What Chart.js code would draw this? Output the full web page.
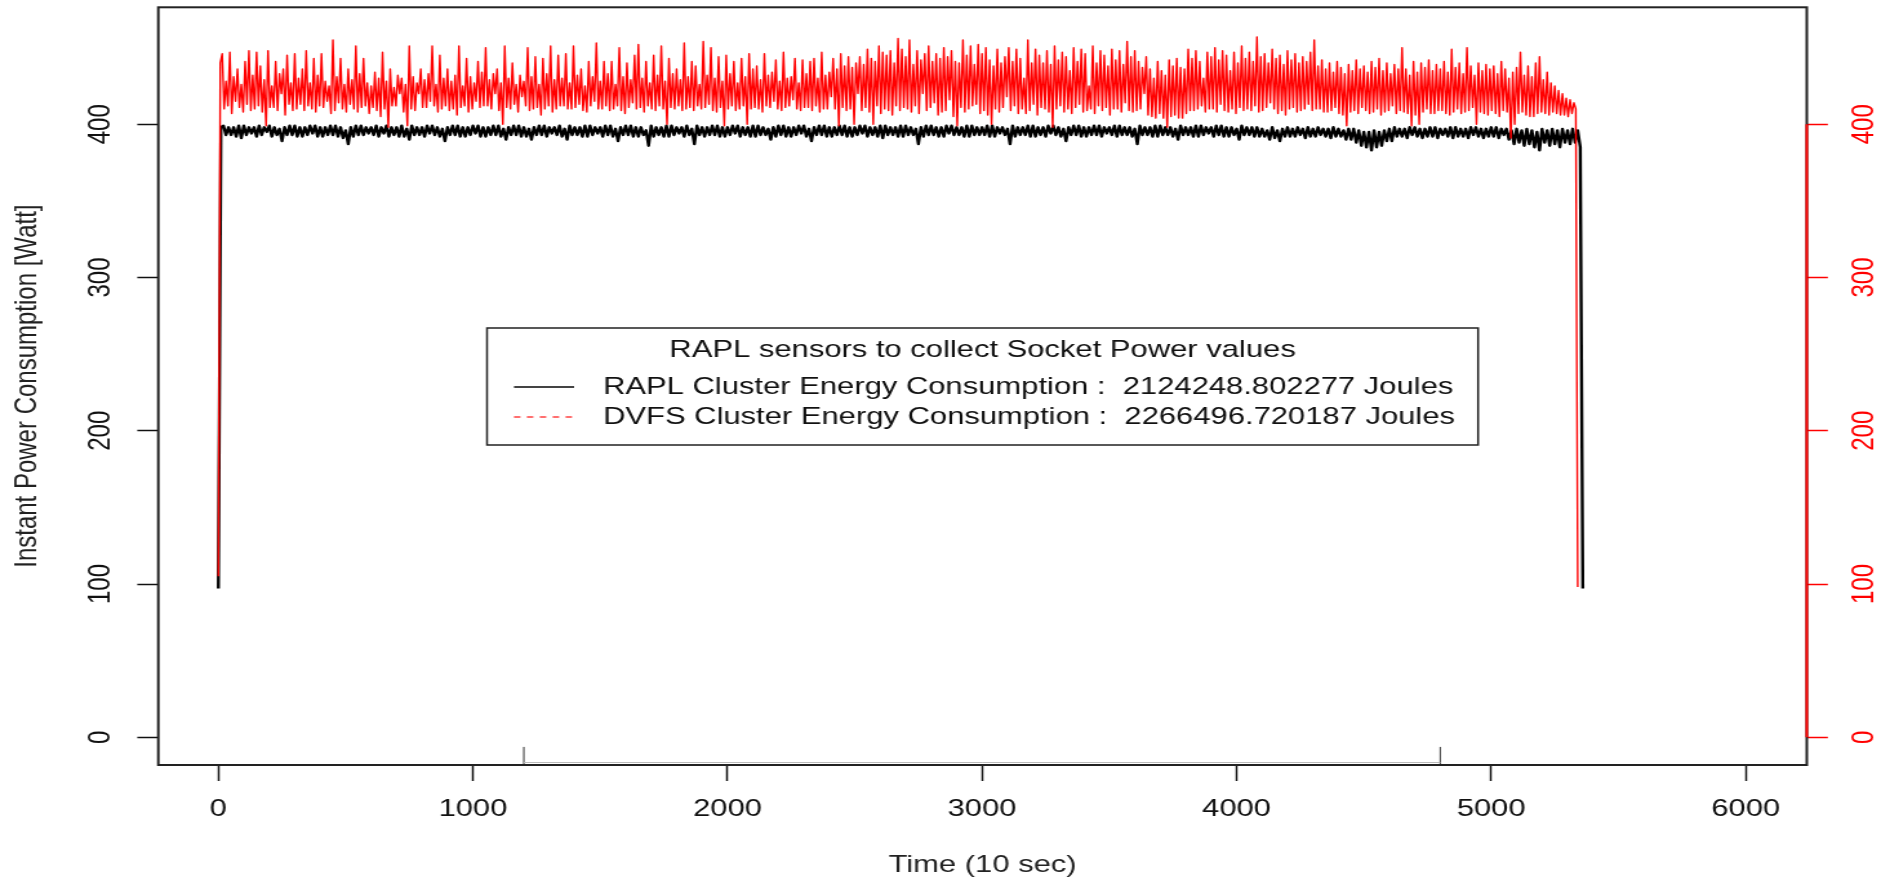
<!DOCTYPE html>
<html>
<head>
<meta charset="utf-8">
<title>RAPL vs DVFS cluster power</title>
<script src="https://cdn.jsdelivr.net/npm/chart.js@4.4.1/dist/chart.umd.min.js"></script>
<style>
    html, body {
        margin: 0;
        padding: 0;
        background: #ffffff;
        overflow: hidden;
    }

    /* the original figure is stretched sideways, so the page is too */
    #plotWrap {
        position: absolute;
        left: 0;
        top: 0;
        width: 1458px;
        height: 882px;
        transform: scaleX(1.2901);
        transform-origin: 0 0;
    }
</style>
</head>
<body>

<div id="plotWrap">
    <canvas id="powerChart"></canvas>
</div>

<script>

// ==========================
// DATA
// ==========================

const timeTicks = [0, 1000, 2000, 3000, 4000, 5000, 6000];

const wattTicks = [0, 100, 200, 300, 400];

const seriesLabels = [
    "RAPL Cluster Energy Consumption :  2124248.802277 Joules",
    "DVFS Cluster Energy Consumption :  2266496.720187 Joules"
];

const legendTitle = "RAPL sensors to collect Socket Power values";

// sampling interval (time units) of each series below
const raplStep = 10;
const dvfsStep = 7.5;

// RAPL (black), one value every 10 time units
const raplWatts = [
    97, 398, 399, 393, 398, 393, 398, 392, 399, 391, 399, 393, 398, 394, 398, 392, 399, 393, 398, 395,
    399, 392, 398, 393, 397, 389, 398, 393, 399, 393, 399, 392, 398, 392, 398, 393, 399, 394, 399, 392,
    398, 392, 398, 393, 399, 393, 399, 392, 398, 391, 396, 387, 398, 392, 399, 393, 399, 393, 398, 394,
    398, 393, 399, 392, 398, 394, 399, 392, 398, 393, 398, 392, 399, 392, 397, 390, 399, 393, 398, 393,
    398, 392, 399, 394, 399, 393, 398, 392, 397, 389, 398, 393, 399, 393, 399, 392, 398, 392, 398, 393,
    399, 394, 399, 392, 398, 392, 398, 393, 399, 393, 399, 392, 397, 390, 398, 393, 399, 393, 399, 392,
    398, 392, 397, 390, 398, 393, 399, 393, 399, 392, 398, 394, 398, 393, 399, 392, 397, 390, 399, 393,
    398, 393, 398, 392, 399, 392, 399, 393, 398, 394, 398, 392, 399, 393, 399, 392, 397, 389, 398, 393,
    399, 393, 399, 392, 398, 392, 398, 393, 396, 386, 399, 392, 398, 393, 398, 392, 399, 392, 399, 393,
    398, 394, 398, 392, 399, 393, 397, 387, 399, 393, 398, 392, 398, 393, 399, 393, 399, 392, 398, 392,
    398, 393, 399, 394, 399, 392, 398, 393, 398, 392, 399, 392, 399, 393, 398, 393, 397, 390, 398, 392,
    399, 393, 399, 392, 398, 392, 398, 393, 399, 394, 399, 392, 397, 389, 398, 393, 399, 393, 399, 392,
    398, 392, 398, 393, 399, 393, 399, 392, 398, 392, 398, 393, 399, 394, 399, 392, 398, 393, 398, 392,
    399, 391, 399, 393, 398, 393, 398, 392, 399, 392, 399, 393, 398, 393, 397, 387, 398, 392, 399, 393,
    399, 393, 398, 392, 398, 392, 399, 394, 399, 393, 398, 393, 398, 392, 399, 392, 399, 393, 398, 393,
    398, 393, 399, 392, 399, 392, 398, 394, 398, 393, 397, 387, 399, 392, 398, 393, 398, 393, 399, 392,
    399, 392, 398, 393, 398, 392, 399, 394, 399, 393, 398, 392, 397, 389, 398, 393, 399, 393, 399, 392,
    398, 392, 398, 393, 399, 393, 399, 392, 398, 394, 398, 393, 399, 392, 399, 393, 398, 393, 398, 392,
    397, 387, 399, 393, 398, 393, 398, 392, 399, 392, 399, 393, 398, 393, 398, 392, 397, 390, 399, 393,
    398, 393, 398, 392, 399, 392, 399, 393, 398, 394, 398, 392, 399, 393, 399, 392, 398, 392, 398, 393,
    397, 390, 399, 393, 398, 393, 398, 392, 398, 392, 397, 392, 396, 390, 398, 391, 396, 389, 397, 392,
    398, 392, 397, 392, 398, 393, 397, 391, 398, 392, 397, 392, 398, 393, 397, 392, 397, 391, 398, 392,
    397, 392, 396, 390, 397, 390, 397, 388, 396, 386, 395, 385, 395, 383, 396, 385, 395, 386, 396, 389,
    397, 389, 398, 392, 397, 392, 397, 391, 398, 393, 398, 392, 397, 391, 397, 392, 398, 392, 398, 391,
    397, 393, 397, 392, 398, 391, 398, 392, 397, 392, 397, 391, 398, 393, 398, 392, 397, 391, 397, 392,
    398, 392, 398, 391, 397, 393, 397, 390, 396, 387, 397, 388, 396, 386, 397, 387, 396, 385, 395, 383,
    397, 388, 396, 386, 397, 387, 396, 385, 397, 388, 396, 387, 397, 388, 396, 385, 97
];

// DVFS (red), one value every 7.5 time units
const dvfsWatts = [
    105, 440, 446, 410, 428, 412, 447, 407, 431, 415, 436, 411, 426, 408, 441, 413, 448, 409, 432, 410,
    447, 412, 438, 408, 429, 399, 448, 411, 425, 411, 441, 409, 433, 420, 436, 406, 445, 413, 427, 409,
    446, 410, 430, 413, 436, 409, 448, 412, 427, 410, 443, 408, 432, 412, 446, 411, 428, 415, 425, 407,
    455, 409, 431, 414, 443, 410, 426, 408, 436, 413, 429, 410, 451, 408, 433, 411, 443, 412, 427, 407,
    425, 411, 434, 409, 430, 405, 447, 410, 428, 398, 436, 412, 424, 412, 432, 420, 430, 408, 426, 399,
    451, 410, 431, 409, 427, 420, 436, 411, 429, 411, 433, 415, 451, 412, 426, 408, 445, 410, 430, 412,
    436, 409, 428, 410, 432, 406, 451, 411, 425, 412, 443, 408, 431, 410, 427, 415, 441, 411, 434, 412,
    450, 412, 429, 410, 433, 420, 436, 409, 427, 400, 451, 411, 430, 410, 440, 413, 426, 408, 432, 418,
    428, 412, 450, 409, 431, 410, 444, 411, 426, 406, 443, 410, 433, 412, 451, 408, 429, 410, 445, 412,
    430, 412, 446, 410, 427, 410, 451, 411, 432, 413, 436, 409, 425, 408, 441, 412, 431, 415, 453, 410,
    428, 410, 441, 412, 433, 409, 441, 410, 426, 412, 450, 409, 431, 407, 440, 411, 429, 414, 445, 410,
    452, 411, 430, 408, 441, 412, 427, 410, 445, 409, 432, 412, 451, 410, 428, 400, 443, 411, 433, 410,
    436, 412, 429, 409, 453, 410, 431, 411, 441, 409, 438, 412, 426, 410, 454, 411, 432, 413, 450, 409,
    430, 408, 444, 411, 428, 399, 445, 410, 433, 412, 441, 409, 427, 410, 443, 412, 431, 400, 446, 410,
    436, 411, 438, 410, 429, 408, 446, 412, 432, 411, 434, 415, 442, 410, 428, 409, 447, 411, 430, 412,
    431, 416, 443, 410, 427, 409, 442, 411, 433, 411, 441, 409, 443, 412, 430, 408, 447, 410, 432, 410,
    434, 418, 443, 410, 436, 399, 446, 411, 438, 409, 444, 410, 437, 400, 440, 420, 444, 409, 439, 411,
    449, 408, 443, 400, 441, 412, 451, 407, 447, 410, 445, 409, 448, 406, 440, 412, 456, 409, 449, 411,
    444, 410, 455, 408, 439, 412, 448, 407, 442, 420, 446, 409, 451, 411, 441, 414, 446, 406, 443, 408,
    450, 409, 444, 416, 448, 405, 441, 399, 440, 411, 455, 408, 445, 410, 451, 412, 439, 413, 452, 407,
    446, 409, 450, 406, 442, 400, 438, 410, 449, 408, 440, 411, 444, 418, 450, 409, 441, 412, 449, 407,
    443, 410, 430, 407, 455, 409, 440, 413, 449, 406, 445, 411, 440, 410, 448, 408, 439, 398, 451, 410,
    442, 412, 447, 408, 444, 410, 435, 407, 450, 411, 441, 413, 449, 408, 446, 409, 425, 410, 451, 407,
    440, 412, 448, 409, 445, 411, 438, 406, 449, 410, 442, 410, 448, 408, 439, 414, 454, 409, 444, 408,
    448, 409, 441, 410, 437, 420, 444, 406, 436, 405, 430, 404, 441, 407, 435, 404, 432, 398, 442, 405,
    438, 406, 443, 404, 437, 404, 436, 407, 449, 409, 443, 409, 448, 410, 441, 412, 430, 408, 447, 410,
    444, 410, 450, 408, 442, 413, 448, 409, 445, 408, 435, 410, 447, 407, 440, 411, 451, 409, 443, 410,
    447, 409, 441, 412, 457, 408, 444, 409, 446, 411, 440, 414, 449, 410, 443, 407, 445, 409, 439, 406,
    448, 410, 442, 411, 446, 408, 440, 409, 444, 410, 441, 413, 447, 409, 455, 410, 438, 410, 442, 408,
    436, 408, 440, 409, 434, 411, 441, 407, 437, 406, 433, 399, 439, 408, 435, 409, 442, 407, 436, 411,
    438, 409, 434, 407, 441, 408, 437, 410, 443, 406, 435, 408, 440, 409, 433, 412, 439, 407, 436, 409,
    450, 408, 436, 407, 432, 399, 441, 406, 434, 400, 440, 408, 437, 410, 442, 407, 435, 407, 439, 409,
    436, 409, 441, 407, 434, 406, 449, 408, 437, 410, 440, 407, 433, 408, 450, 409, 438, 411, 432, 400,
    440, 408, 435, 407, 439, 406, 436, 409, 438, 407, 433, 405, 441, 409, 436, 408, 430, 391, 434, 400,
    437, 407, 447, 408, 432, 406, 438, 405, 431, 405, 440, 407, 444, 408, 429, 407, 434, 406, 427, 408,
    425, 407, 422, 406, 420, 406, 417, 405, 416, 407, 414, 410, 98
];

// edges of a second, clipped legend that shows at the plot bottom
const clippedBoxTimes = [1200, 4800];
const clippedBoxTop = -6.3;



// ==========================
// POINTS
// ==========================

const raplPoints =
    raplWatts.map((w, i) => ({ x: i * raplStep, y: w }));

const dvfsPoints =
    dvfsWatts.map((w, i) => ({ x: i * dvfsStep, y: w }));

const baseFont = {
    family: "'Liberation Sans', Arial, sans-serif",
    size: 24
};

// keep the axes from reserving room for label overflow
function noOverflow(scale) {
    scale.paddingTop = 0;
    scale.paddingBottom = 0;
    scale.paddingLeft = 0;
    scale.paddingRight = 0;
}



// ==========================
// BOX, RED AXIS, LEGEND
// ==========================

const frameAndLegend = {

    id: "frameAndLegend",

    afterDraw(chart) {

        const ctx = chart.ctx;
        const a = chart.chartArea;
        const xs = chart.scales.x;
        const yl = chart.scales.y;
        const yr = chart.scales.yRight;

        ctx.save();

        // remains of a legend box that sits below the plot region
        ctx.strokeStyle = "#333333";
        ctx.lineWidth = 1;
        clippedBoxTimes.forEach(t => {
            const px = xs.getPixelForValue(t);
            ctx.beginPath();
            ctx.moveTo(px, yl.getPixelForValue(clippedBoxTop));
            ctx.lineTo(px, a.bottom);
            ctx.stroke();
        });
        ctx.strokeStyle = "#bbbbbb";
        ctx.beginPath();
        ctx.moveTo(xs.getPixelForValue(clippedBoxTimes[0]), a.bottom - 2.5);
        ctx.lineTo(xs.getPixelForValue(clippedBoxTimes[1]), a.bottom - 2.5);
        ctx.stroke();

        // plot box
        ctx.strokeStyle = "#222222";
        ctx.lineWidth = 2;
        ctx.strokeRect(a.left, a.top, a.right - a.left, a.bottom - a.top);

        // red right axis line, 0 .. 400
        ctx.strokeStyle = "#ff0000";
        ctx.lineWidth = 2;
        ctx.beginPath();
        ctx.moveTo(a.right, yr.getPixelForValue(wattTicks[0]));
        ctx.lineTo(a.right, yr.getPixelForValue(wattTicks[wattTicks.length - 1]));
        ctx.stroke();

        // legend
        const box = { left: 377.5, top: 328, right: 1145.7, bottom: 445 };

        ctx.fillStyle = "#ffffff";
        ctx.fillRect(box.left, box.top, box.right - box.left, box.bottom - box.top);
        ctx.strokeStyle = "#222222";
        ctx.lineWidth = 1.5;
        ctx.strokeRect(box.left, box.top, box.right - box.left, box.bottom - box.top);

        ctx.font = "24px " + baseFont.family;
        ctx.fillStyle = "#111111";
        ctx.textBaseline = "middle";
        ctx.textAlign = "center";
        ctx.fillText(legendTitle, (box.left + box.right) / 2, 350);

        ctx.textAlign = "left";

        chart.data.datasets.forEach((ds, i) => {

            const y = 387 + i * 30;

            ctx.strokeStyle = i === 0 ? "#444444" : "#ff4040";
            ctx.lineWidth = i === 0 ? 2 : 1.5;
            ctx.setLineDash(i === 0 ? [] : [5, 5]);
            ctx.beginPath();
            ctx.moveTo(398.4, y);
            ctx.lineTo(445, y);
            ctx.stroke();
            ctx.setLineDash([]);

            ctx.fillStyle = "#111111";
            ctx.fillText(ds.label, 467.4, y);
        });

        ctx.restore();
    }
};



// ==========================
// CHART
// ==========================

const tickFormat = v => String(v);

new Chart(document.getElementById("powerChart"), {

    type: "line",

    data: {

        datasets: [
            {
                label: seriesLabels[0],
                data: raplPoints,
                yAxisID: "y",
                order: 1,
                borderColor: "#000000",
                borderWidth: 2.4,
                borderJoinStyle: "round",
                pointRadius: 0,
                tension: 0,
                fill: false
            },
            {
                label: seriesLabels[1],
                data: dvfsPoints,
                yAxisID: "yRight",
                order: 0,
                borderColor: "#ff0000",
                borderWidth: 1.4,
                borderJoinStyle: "round",
                pointRadius: 0,
                tension: 0,
                fill: false
            }
        ]
    },

    options: {

        responsive: true,
        maintainAspectRatio: false,
        animation: false,
        parsing: false,
        normalized: true,

        layout: {
            padding: { top: 7.3, left: 0, right: 0, bottom: 0 }
        },

        plugins: {
            legend: { display: false },
            tooltip: { enabled: false }
        },

        scales: {

            x: {
                type: "linear",
                position: "bottom",
                min: -236,
                max: 6240,
                afterBuildTicks: s => {
                    s.ticks = timeTicks.map(v => ({ value: v }));
                },
                afterFit: s => {
                    s.height = 117;
                    noOverflow(s);
                },
                border: { display: false },
                grid: {
                    drawOnChartArea: false,
                    drawTicks: true,
                    tickLength: 16,
                    tickWidth: 1.5,
                    tickColor: "#111111"
                },
                ticks: {
                    padding: 14,
                    maxRotation: 0,
                    autoSkip: false,
                    color: "#111111",
                    font: baseFont,
                    callback: tickFormat
                },
                title: {
                    display: true,
                    text: "Time (10 sec)",
                    color: "#222222",
                    font: baseFont,
                    padding: { top: 0, bottom: 2 }
                }
            },

            y: {
                type: "linear",
                position: "left",
                min: -18.1,
                max: 476.3,
                afterBuildTicks: s => {
                    s.ticks = wattTicks.map(v => ({ value: v }));
                },
                afterFit: s => {
                    s.width = 122.7;
                    noOverflow(s);
                },
                border: { display: false },
                grid: {
                    drawOnChartArea: false,
                    drawTicks: true,
                    tickLength: 16.3,
                    tickWidth: 1.5,
                    tickColor: "#111111"
                },
                ticks: {
                    padding: 8.4,
                    minRotation: 90,
                    maxRotation: 90,
                    crossAlign: "center",
                    autoSkip: false,
                    color: "#111111",
                    font: baseFont,
                    callback: tickFormat
                },
                title: {
                    display: true,
                    text: "Instant Power Consumption [Watt]",
                    color: "#222222",
                    font: baseFont,
                    padding: { top: 6.5, bottom: 0 }
                }
            },

            yRight: {
                type: "linear",
                position: "right",
                min: -18.1,
                max: 476.3,
                afterBuildTicks: s => {
                    s.ticks = wattTicks.map(v => ({ value: v }));
                },
                afterFit: s => {
                    s.width = 57.5;
                    noOverflow(s);
                },
                border: { display: false },
                grid: {
                    drawOnChartArea: false,
                    drawTicks: true,
                    tickLength: 16.3,
                    tickWidth: 1.5,
                    tickColor: "#ff0000"
                },
                ticks: {
                    padding: 8.2,
                    minRotation: 90,
                    maxRotation: 90,
                    crossAlign: "center",
                    autoSkip: false,
                    color: "#ff0000",
                    font: baseFont,
                    callback: tickFormat
                }
            }
        }
    },

    plugins: [frameAndLegend]
});

</script>
</body>
</html>
